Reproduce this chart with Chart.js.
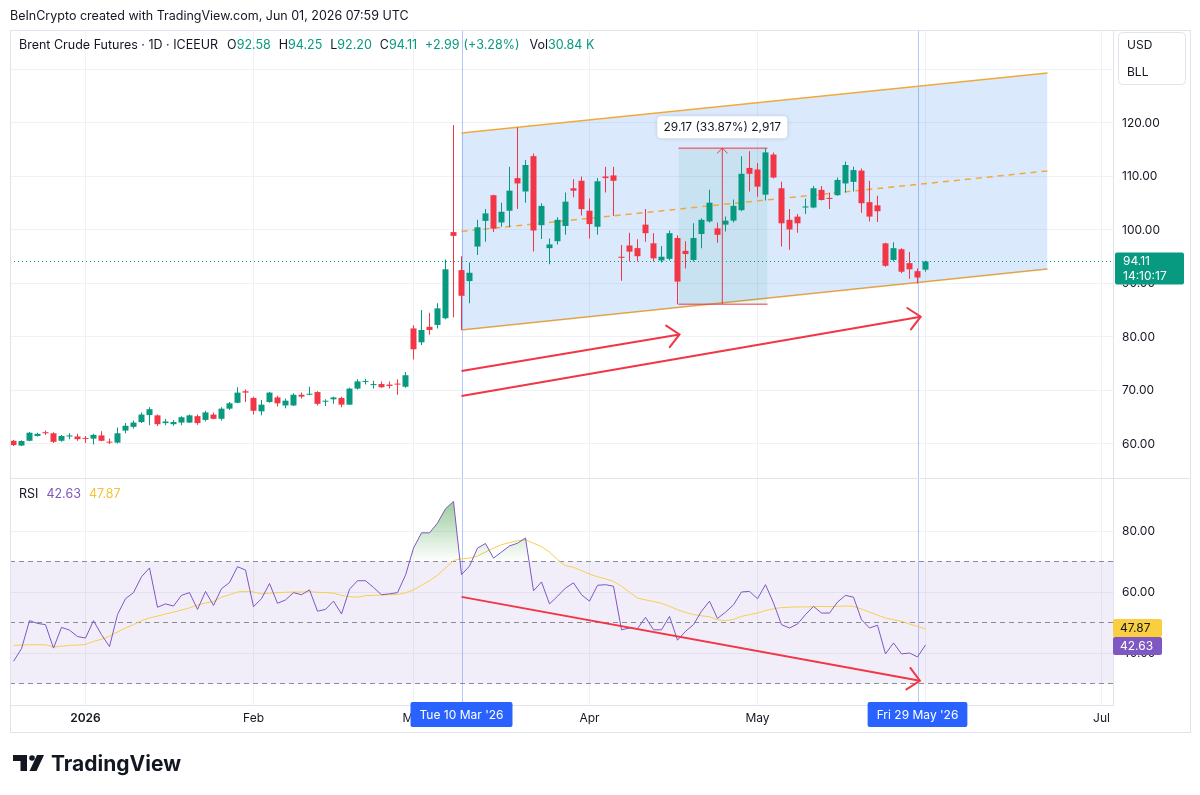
<!DOCTYPE html>
<html>
<head>
<meta charset="utf-8">
<script src="https://cdn.jsdelivr.net/npm/chart.js@4.4.1/dist/chart.umd.min.js"></script>
<style>
  html, body { margin: 0; padding: 0; background: #fff; }
  canvas { display: block; }
</style>
</head>
<body>
<canvas id="chart" width="1200" height="795"></canvas>
<script>
const FONT = 'Inter, "Noto Sans", sans-serif';
const TEXT = '#131722';
const UP = '#089981';
const DOWN = '#f23645';
const PURPLE = '#7e57c2';
const YELLOW = '#f4cf4f';

// Brent daily bars: index 0 = 22 Dec 2025 ... index 114 = 1 Jun 2026
const opens = [
  60.6, 59.7, 60.6, 61.5, 62.2, 62.0, 60.6, 61.4, 61.4, 61.1,
  61.0, 61.6, 60.4, 60.25, 62.5, 63.2, 64.1, 65.4, 65.35, 63.9,
  63.7, 64.0, 64.0, 65.2, 64.5, 65.5, 64.7, 66.6, 67.7, 69.85,
  68.6, 66.1, 67.85, 68.7, 67.2, 67.2, 69.2, 69.2, 69.7, 67.9,
  68.35, 68.6, 67.35, 70.35, 71.6, 71.0, 71.2, 71.1, 71.2, 70.7,
  81.6, 79.0, 81.9, 82.25, 83.5, 99.6, 92.5, 90.45, 96.9, 101.7,
  106.5, 101.4, 103.6, 109.7, 107.2, 113.8, 100.9, 96.6, 97.9, 100.75,
  107.8, 109.2, 103.6, 100.6, 110.0, 110.2, 95.0, 97.1, 96.6, 101.0,
  97.5, 94.3, 94.6, 98.5, 96.1, 94.4, 99.25, 101.6, 100.3, 101.0,
  101.75, 103.7, 111.6, 111.3, 106.6, 114.1, 107.8, 101.9, 102.5, 104.2,
  104.2, 107.5, 106.0, 106.5, 108.7, 109.0, 111.1, 105.2, 104.6, 97.5,
  94.4, 96.4, 93.8, 92.3, 92.58
];
const highs = [
  60.75, 60.7, 62.25, 62.1, 62.5, 62.2, 61.7, 62.0, 61.9, 61.5,
  61.9, 62.4, 61.0, 63.1, 63.9, 64.4, 65.9, 66.85, 65.5, 64.7,
  64.5, 65.2, 65.5, 65.5, 66.2, 65.9, 66.85, 67.85, 70.6, 70.2,
  68.85, 68.2, 69.7, 69.0, 68.5, 69.5, 69.6, 70.7, 69.85, 68.35,
  68.85, 68.85, 70.5, 72.1, 72.2, 71.8, 71.7, 71.7, 72.1, 73.45,
  82.2, 85.05, 84.55, 86.3, 94.5, 119.6, 95.1, 93.9, 101.9, 103.9,
  106.6, 105.1, 111.8, 119.2, 113.1, 114.3, 105.0, 98.4, 102.4, 107.0,
  109.5, 110.0, 105.9, 109.7, 111.8, 111.8, 97.2, 99.5, 98.25, 103.9,
  99.4, 97.0, 99.9, 99.0, 97.9, 101.25, 102.2, 107.5, 101.4, 102.5,
  105.7, 113.8, 114.7, 112.5, 115.3, 114.5, 109.0, 103.9, 103.0, 105.9,
  108.2, 108.2, 107.0, 109.8, 112.8, 111.8, 111.5, 109.2, 106.4, 97.6,
  97.7, 96.6, 95.9, 92.8, 94.25
];
const lows = [
  59.6, 59.6, 60.5, 61.4, 61.7, 60.2, 60.4, 60.9, 60.6, 60.2,
  59.9, 60.5, 60.0, 60.1, 62.0, 62.9, 63.9, 63.5, 63.35, 63.5,
  63.4, 63.5, 63.9, 63.6, 64.2, 64.6, 64.4, 66.35, 67.6, 67.85,
  65.5, 65.35, 67.7, 67.0, 66.7, 67.1, 68.5, 69.1, 67.2, 67.1,
  67.5, 66.85, 67.35, 70.2, 71.1, 70.35, 70.5, 70.35, 69.2, 70.5,
  75.8, 78.5, 80.4, 81.6, 83.3, 83.7, 81.3, 86.3, 95.3, 97.8,
  99.6, 100.6, 100.5, 103.9, 105.1, 96.0, 98.3, 93.6, 97.3, 99.1,
  106.1, 102.7, 98.4, 99.1, 107.0, 102.6, 90.5, 94.1, 94.1, 97.8,
  94.1, 93.9, 94.3, 86.13, 92.8, 94.1, 96.6, 101.4, 97.6, 99.7,
  101.4, 103.5, 107.2, 106.2, 105.5, 109.6, 96.9, 96.3, 99.5, 103.0,
  104.05, 105.5, 103.9, 106.4, 107.0, 107.2, 103.2, 101.6, 101.5, 93.15,
  94.1, 91.9, 90.9, 90.0, 92.2
];
const closes = [
  59.8, 60.55, 62.1, 61.9, 62.0, 60.4, 61.5, 61.6, 60.9, 60.95,
  61.7, 60.6, 60.25, 62.0, 63.4, 64.0, 65.5, 66.5, 63.7, 64.2,
  64.1, 65.0, 65.35, 63.9, 65.9, 64.7, 66.6, 67.6, 69.6, 69.6,
  66.2, 67.35, 69.6, 67.6, 68.1, 69.2, 68.85, 69.35, 67.5, 68.0,
  68.7, 67.35, 70.35, 71.7, 71.7, 71.2, 70.6, 70.85, 71.1, 72.85,
  77.7, 81.3, 81.3, 85.35, 92.65, 98.9, 87.7, 92.0, 100.5, 103.1,
  100.25, 103.4, 107.35, 108.7, 112.15, 99.9, 104.5, 97.3, 101.9, 105.3,
  107.35, 103.9, 101.1, 109.1, 109.7, 109.2, 94.8, 95.95, 95.1, 99.4,
  94.7, 95.0, 99.4, 90.35, 95.5, 98.5, 101.9, 105.1, 99.1, 101.75,
  104.5, 110.5, 110.5, 108.1, 114.5, 109.8, 101.25, 100.1, 101.25, 104.4,
  107.8, 105.6, 105.8, 109.35, 112.15, 111.2, 105.0, 102.5, 103.5, 93.3,
  96.6, 92.2, 92.65, 91.12, 94.11
];

const rsi = [
  37.3, 41.4, 50.6, 49.7, 49.3, 41.6, 48.4, 47.5, 45.4, 44.9,
  50.6, 46.0, 42.1, 52.6, 57.8, 59.8, 65.0, 67.9, 55.0, 56.1,
  55.4, 58.9, 59.8, 54.3, 60.2, 55.6, 61.1, 63.1, 68.3, 67.2,
  55.2, 57.8, 62.8, 56.3, 57.4, 59.8, 59.1, 60.7, 53.7, 54.3,
  57.0, 52.8, 60.9, 63.7, 63.7, 61.5, 59.1, 59.4, 59.8, 65.5,
  74.4, 79.4, 79.4, 82.6, 87.3, 89.7, 65.7, 68.5, 74.4, 75.9,
  71.1, 73.1, 75.1, 76.0, 77.7, 60.4, 63.3, 56.1, 58.6, 61.3,
  63.0, 59.1, 57.0, 62.2, 62.4, 61.9, 47.6, 48.2, 48.0, 51.7,
  47.6, 47.6, 52.0, 44.2, 47.1, 49.3, 53.7, 57.0, 51.3, 53.4,
  55.8, 60.0, 60.2, 57.8, 62.4, 56.4, 49.3, 48.2, 49.5, 52.6,
  55.3, 53.1, 53.1, 56.7, 58.9, 58.3, 50.9, 48.2, 49.1, 39.7,
  43.3, 39.7, 40.0, 38.7, 42.63
];
const rsiMA = [
  42.5, 42.6, 42.7, 42.7, 42.7, 42.0, 42.2, 42.5, 42.6, 42.8,
  43.8, 44.5, 45.5, 46.9, 48.2, 49.3, 50.6, 51.5, 52.1, 52.8,
  53.4, 54.1, 54.8, 55.7, 56.4, 56.9, 58.3, 59.1, 60.0, 60.2,
  60.0, 59.4, 59.6, 59.8, 59.9, 60.0, 60.0, 60.1, 59.9, 59.8,
  59.6, 58.9, 58.5, 58.3, 58.8, 58.9, 59.0, 59.1, 59.2, 59.7,
  60.7, 62.2, 63.7, 65.5, 67.9, 70.3, 70.9, 71.1, 71.8, 73.1,
  74.4, 75.5, 76.2, 76.8, 77.1, 76.0, 74.9, 73.1, 70.6, 68.6,
  68.1, 67.0, 65.9, 65.0, 64.3, 63.5, 61.9, 59.9, 58.0, 57.4,
  56.9, 56.3, 55.3, 54.2, 53.3, 52.6, 52.2, 51.9, 50.9, 50.6,
  51.0, 52.0, 52.6, 53.1, 53.9, 54.5, 54.9, 55.0, 55.1, 55.1,
  55.2, 55.3, 55.2, 55.3, 55.4, 55.3, 54.4, 53.4, 52.4, 51.5,
  50.9, 50.4, 49.5, 48.7, 47.87
];

// time axis: bar index of the first bar of each month
const monthTicks = [9, 30, 50, 72, 93, 114, 136];
const monthLabels = ['2026', 'Feb', 'Mar', 'Apr', 'May', 'Jun', 'Jul'];
const rsiLevels = [70, 50, 30];

// drawings, as [bar index, value]
const channelTop = [[56, 118.13], [129.25, 129.35]];
const channelMid = [[56, 99.72], [129.25, 111.03]];
const channelBottom = [[56, 81.31], [129.25, 92.71]];
const rangeTop = [[83.125, 115.30], [94.25, 115.30]];
const rangeBottom = [[83.125, 86.13], [94.25, 86.13]];
const rangeArrow = [[88.6, 86.13], [88.6, 115.30]];
const priceArrowA = [[56, 73.64], [83.25, 80.47]];
const priceArrowB = [[56, 68.97], [113.4, 83.79]];
const rsiArrow = [[56, 58.4], [113.3, 30.9]];
const markerBars = [56, 113];
const markerLabels = ["Tue 10 Mar '26", "Fri 29 May '26"];

const X_MIN = -0.4375, X_MAX = 137.4375;
const pts = arr => arr.map(([x, y]) => ({ x, y }));
const series = arr => arr.map((y, x) => ({ x, y }));
const barColors = closes.map((c, i) => c >= opens[i] ? UP : DOWN);

function lineDs(data, color, extra) {
  return Object.assign({
    type: 'line', data: pts(data), borderColor: color, borderWidth: 1,
    pointRadius: 0, fill: false, tension: 0, yAxisID: 'y'
  }, extra || {});
}

function arrowHead(ctx, x0, y0, x1, y1, len, ang) {
  const a = Math.atan2(y1 - y0, x1 - x0);
  ctx.beginPath();
  ctx.moveTo(x1 + len * Math.cos(a + Math.PI - ang), y1 + len * Math.sin(a + Math.PI - ang));
  ctx.lineTo(x1, y1);
  ctx.lineTo(x1 + len * Math.cos(a + Math.PI + ang), y1 + len * Math.sin(a + Math.PI + ang));
  ctx.stroke();
}

function box(ctx, x, y, w, h, fill, r) {
  ctx.fillStyle = fill;
  ctx.beginPath();
  ctx.roundRect(x, y, w, h, r || 0);
  ctx.fill();
}

const overlay = {
  id: 'overlay',
  beforeDatasetsDraw(chart) {
    const { ctx, chartArea: ca, scales: { x } } = chart;
    ctx.save();
    ctx.strokeStyle = 'rgba(41,98,255,0.35)';
    ctx.lineWidth = 1;
    markerBars.forEach(b => {
      const px = Math.round(x.getPixelForValue(b)) + 0.5;
      ctx.beginPath();
      ctx.moveTo(px, ca.top);
      ctx.lineTo(px, ca.bottom);
      ctx.stroke();
    });
    ctx.restore();
  },
  afterDatasetsDraw(chart) {
    const { ctx, scales: { x, y, yR } } = chart;
    ctx.save();
    ctx.strokeStyle = DOWN;
    ctx.lineWidth = 2;
    ctx.lineCap = 'round';
    [[priceArrowA, y], [priceArrowB, y], [rsiArrow, yR]].forEach(([a, sc]) => {
      arrowHead(ctx, x.getPixelForValue(a[0][0]), sc.getPixelForValue(a[0][1]),
        x.getPixelForValue(a[1][0]), sc.getPixelForValue(a[1][1]), 16, Math.PI / 4.2);
    });
    ctx.lineWidth = 1;
    arrowHead(ctx, x.getPixelForValue(rangeArrow[0][0]), y.getPixelForValue(rangeArrow[0][1]),
      x.getPixelForValue(rangeArrow[1][0]), y.getPixelForValue(rangeArrow[1][1]), 7, Math.PI / 4);
    ctx.restore();
  },
  afterDraw(chart) {
    const { ctx, chartArea: ca, scales: { x, y, yR } } = chart;
    ctx.save();
    ctx.textBaseline = 'middle';

    // frame and pane separators
    ctx.strokeStyle = '#e0e3eb';
    ctx.lineWidth = 1;
    ctx.strokeRect(ca.left + 0.5, ca.top + 0.5, y.right - ca.left, x.bottom - ca.top);
    ctx.beginPath();
    ctx.moveTo(ca.left, Math.round(y.bottom) + 0.5);
    ctx.lineTo(y.right, Math.round(y.bottom) + 0.5);
    ctx.stroke();

    // header
    ctx.font = '12.5px ' + FONT;
    ctx.fillStyle = TEXT;
    ctx.textAlign = 'left';
    ctx.fillText('BeInCrypto created with TradingView.com, Jun 01, 2026 07:59 UTC', 10, 16);

    // legend
    const last = closes.length - 1;
    const chg = closes[last] - closes[last - 1];
    const parts = [
      ['Brent Crude Futures · 1D · ICEEUR', TEXT, 9],
      ['O', TEXT, 0], [opens[last].toFixed(2), UP, 8],
      ['H', TEXT, 0], [highs[last].toFixed(2), UP, 8],
      ['L', TEXT, 0], [lows[last].toFixed(2), UP, 8],
      ['C', TEXT, 0], [closes[last].toFixed(2), UP, 8],
      ['+' + chg.toFixed(2), UP, 4],
      ['(+' + (chg / closes[last - 1] * 100).toFixed(2) + '%)', UP, 10],
      ['Vol', TEXT, 0], ['30.84 K', UP, 0]
    ];
    let lx = 19;
    parts.forEach(([t, c, g]) => {
      ctx.fillStyle = c;
      ctx.fillText(t, lx, 45);
      lx += ctx.measureText(t).width + g;
    });

    // RSI legend
    lx = 19;
    [['RSI', TEXT, 8], [rsi[last].toFixed(2), PURPLE, 8], [rsiMA[last].toFixed(2), '#f2c43d', 0]].forEach(([t, c, g]) => {
      ctx.fillStyle = c;
      ctx.fillText(t, lx, 494);
      lx += ctx.measureText(t).width + g;
    });

    // currency box
    ctx.fillStyle = '#fff';
    ctx.strokeStyle = '#e0e3eb';
    ctx.beginPath();
    ctx.roundRect(y.left + 5.5, ca.top + 2.5, 67, 52, 4);
    ctx.fill();
    ctx.stroke();
    ctx.fillStyle = TEXT;
    ctx.font = '12px ' + FONT;
    ctx.fillText('USD', y.left + 14, ca.top + 15);
    ctx.fillText('BLL', y.left + 14, ca.top + 42);

    // last price label
    const py = y.getPixelForValue(closes[last]);
    box(ctx, y.left + 2, py - 9, 69, 32, UP, 2);
    ctx.fillStyle = '#fff';
    ctx.font = '12px ' + FONT;
    ctx.fillText(closes[last].toFixed(2), y.left + 10, py);
    ctx.fillText('14:10:17', y.left + 10, py + 15);

    // RSI value labels
    const ym = yR.getPixelForValue(rsiMA[last]) - 1;
    box(ctx, yR.left, ym - 9, 49, 18, '#f9cf3f', 2);
    ctx.fillStyle = TEXT;
    ctx.fillText(rsiMA[last].toFixed(2), yR.left + 7, ym);
    const yv = Math.max(yR.getPixelForValue(rsi[last]), ym + 18);
    box(ctx, yR.left, yv - 9, 49, 18, PURPLE, 2);
    ctx.fillStyle = '#fff';
    ctx.fillText(rsi[last].toFixed(2), yR.left + 7, yv);

    // range measurement label
    const diff = rangeTop[0][1] - rangeBottom[0][1];
    const mtxt = diff.toFixed(2) + ' (' + (diff / rangeBottom[0][1] * 100).toFixed(2) + '%) ' + Math.round(diff * 100).toLocaleString('en-US');
    const mx = x.getPixelForValue(rangeArrow[0][0]);
    const my = y.getPixelForValue(rangeTop[0][1]) - 21;
    ctx.shadowColor = 'rgba(0,0,0,0.15)';
    ctx.shadowBlur = 4;
    box(ctx, mx - 65, my - 11, 130, 22, '#fff', 4);
    ctx.shadowColor = 'transparent';
    ctx.fillStyle = TEXT;
    ctx.textAlign = 'center';
    ctx.fillText(mtxt, mx, my);

    // date markers on the time axis
    markerBars.forEach((b, i) => {
      const bx = x.getPixelForValue(b);
      const w = ctx.measureText(markerLabels[i]).width + 18;
      box(ctx, bx - w / 2, x.top - 3, w, 25, '#2962ff', 2);
      ctx.fillStyle = '#fff';
      ctx.fillText(markerLabels[i], bx, x.top + 10);
    });

    // TradingView logo
    ctx.fillStyle = TEXT;
    ctx.fillRect(13, 755, 14, 6);
    ctx.fillRect(20.5, 755, 6.5, 16);
    ctx.beginPath();
    ctx.arc(32, 758, 2.8, 0, Math.PI * 2);
    ctx.fill();
    ctx.beginPath();
    ctx.moveTo(37, 755);
    ctx.lineTo(44, 755);
    ctx.lineTo(36.5, 771);
    ctx.lineTo(29.5, 771);
    ctx.closePath();
    ctx.fill();
    ctx.textAlign = 'left';
    ctx.textBaseline = 'alphabetic';
    ctx.font = 'bold 21px ' + FONT;
    ctx.fillText('TradingView', 51, 771);
    ctx.restore();
  }
};

const datasets = [
  // channel
  lineDs(channelTop, '#f2a93b', { borderWidth: 1.5, fill: '+1', backgroundColor: 'rgba(33,120,243,0.16)', order: 30 }),
  lineDs(channelBottom, '#f2a93b', { borderWidth: 1.5, order: 30 }),
  lineDs(channelMid, '#f2a93b', { borderWidth: 1.5, borderDash: [6, 5], order: 25 }),
  // price range tool
  lineDs(rangeTop, DOWN, { fill: '+1', backgroundColor: 'rgba(8,153,129,0.09)', order: 28 }),
  lineDs(rangeBottom, DOWN, { order: 28 }),
  lineDs(rangeArrow, DOWN, { order: 28 }),
  // last price line
  lineDs([[X_MIN, closes[closes.length - 1]], [X_MAX, closes[closes.length - 1]]], UP, { borderDash: [1, 3], order: 27 }),
  // candles
  {
    type: 'bar', label: 'wick', yAxisID: 'y', order: 11,
    data: closes.map((c, i) => ({ x: i, y: [lows[i], highs[i]] })),
    backgroundColor: barColors, barThickness: 1, grouped: false,
    borderWidth: 0, inflateAmount: 0, minBarLength: 1
  },
  {
    type: 'bar', label: 'body', yAxisID: 'y', order: 10,
    data: closes.map((c, i) => ({ x: i, y: [opens[i], c] })),
    backgroundColor: barColors, barThickness: 6, grouped: false,
    borderWidth: 0, inflateAmount: 0, minBarLength: 1
  },
  // arrows
  lineDs(priceArrowA, DOWN, { borderWidth: 2, order: 1 }),
  lineDs(priceArrowB, DOWN, { borderWidth: 2, order: 1 }),
  // RSI pane
  lineDs([[X_MIN, 70], [X_MAX, 70]], 'rgba(0,0,0,0)', { yAxisID: 'yR', borderWidth: 0, fill: { value: 30 }, backgroundColor: 'rgba(126,87,194,0.1)', order: 30 }),
  ...rsiLevels.map(v => lineDs([[X_MIN, v], [X_MAX, v]], '#8a8d96', { yAxisID: 'yR', borderDash: [5, 4], order: 26 })),
  {
    type: 'line', data: series(rsiMA), yAxisID: 'yR', borderColor: YELLOW, borderWidth: 1,
    pointRadius: 0, tension: 0, fill: false, order: 6
  },
  {
    type: 'line', data: series(rsi), yAxisID: 'yR', borderColor: PURPLE, borderWidth: 1,
    pointRadius: 0, tension: 0, order: 5,
    fill: { value: 70 },
    backgroundColor(context) {
      const { chart } = context;
      if (!chart.chartArea) return 'rgba(0,0,0,0)';
      const s = chart.scales.yR;
      const g = chart.ctx.createLinearGradient(0, s.getPixelForValue(92), 0, s.getPixelForValue(70));
      g.addColorStop(0, 'rgba(67,160,71,0.6)');
      g.addColorStop(1, 'rgba(67,160,71,0)');
      return g;
    }
  },
  lineDs(rsiArrow, DOWN, { yAxisID: 'yR', borderWidth: 2, order: 1 })
];

new Chart(document.getElementById('chart'), {
  type: 'bar',
  data: { datasets },
  options: {
    responsive: false,
    animation: false,
    events: [],
    layout: { padding: { top: 30, left: 10, right: 10, bottom: 63 } },
    plugins: { legend: { display: false }, tooltip: { enabled: false } },
    scales: {
      x: {
        type: 'linear', min: X_MIN, max: X_MAX, offset: false,
        afterBuildTicks(scale) { scale.ticks = monthTicks.map(v => ({ value: v })); },
        afterFit(scale) { scale.height = 27; },
        grid: { color: '#f0f1f4', drawTicks: false, offset: false },
        border: { color: '#e0e3eb' },
        ticks: {
          autoSkip: false, maxRotation: 0, padding: 6, color: TEXT,
          font: ctx => ({ family: FONT, size: 12, weight: ctx.index === 0 ? '600' : '400' }),
          callback: (v, i) => monthLabels[i]
        }
      },
      y: {
        type: 'linear', position: 'right', stack: 'panes', stackWeight: 448,
        min: 53.64, max: 137.38,
        afterFit(scale) { scale.width = 77; },
        grid: { color: '#f0f1f4', drawTicks: false },
        border: { color: '#e0e3eb' },
        ticks: { stepSize: 10, includeBounds: false, padding: 9, color: TEXT, font: { family: FONT, size: 12 }, callback: v => v.toFixed(2) }
      },
      yR: {
        type: 'linear', position: 'right', stack: 'panes', stackWeight: 227,
        min: 22.95, max: 97.38,
        afterFit(scale) { scale.width = 77; },
        grid: { color: '#f0f1f4', drawTicks: false },
        border: { color: '#e0e3eb' },
        ticks: { stepSize: 20, includeBounds: false, padding: 9, color: TEXT, font: { family: FONT, size: 12 }, callback: v => v.toFixed(2) }
      }
    }
  },
  plugins: [overlay]
});
</script>
</body>
</html>
